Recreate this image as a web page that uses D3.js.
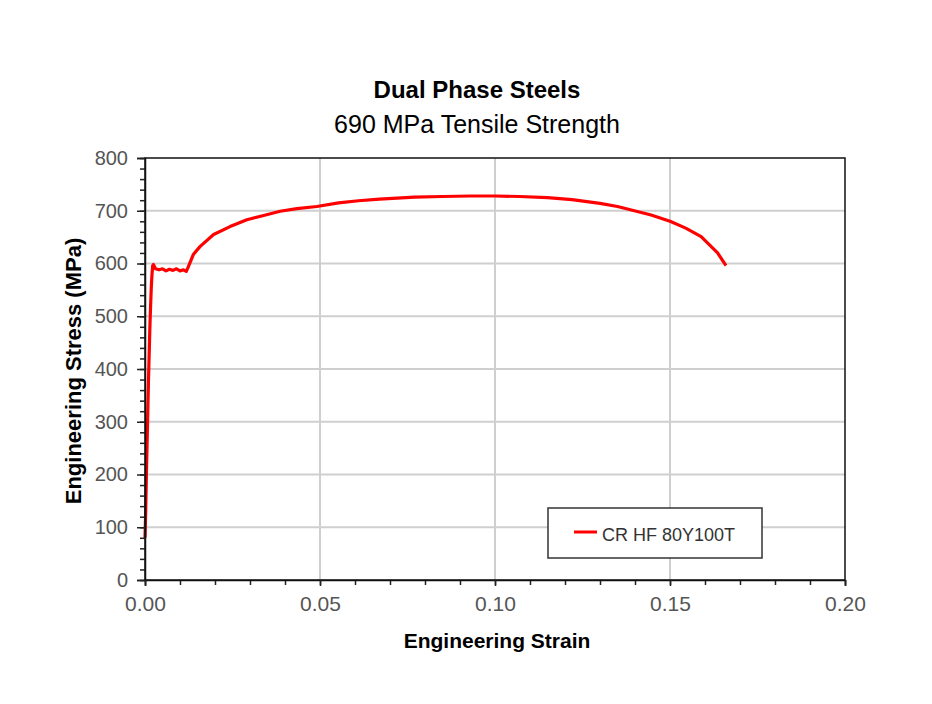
<!DOCTYPE html>
<html>
<head>
<meta charset="utf-8">
<script src="https://cdn.jsdelivr.net/npm/d3@7"></script>
<style>
  body { margin: 0; background: #fff; }
  svg { display: block; font-family: "Liberation Sans", Arial, sans-serif; }
</style>
</head>
<body>
<div id="root"></div>
<script>
const width = 932;
const height = 704;
const margin = { top: 158, right: 87, bottom: 124, left: 145 };
const innerWidth = width - margin.left - margin.right;
const innerHeight = height - margin.top - margin.bottom;

const strain = [0, 0.0002, 0.0004, 0.0006, 0.0008, 0.001, 0.0012, 0.0014, 0.0016, 0.0018, 0.002, 0.0022, 0.0024,
  0.003, 0.004, 0.005, 0.006, 0.007, 0.008, 0.009, 0.01, 0.011, 0.0118, 0.0124, 0.0138, 0.0157,
  0.0196, 0.0243, 0.0291, 0.0339, 0.0386, 0.0434, 0.0491, 0.0553, 0.061, 0.067, 0.077, 0.085, 0.093,
  0.1, 0.107, 0.115, 0.122, 0.13, 0.135, 0.1446, 0.15, 0.1545, 0.1589, 0.1636, 0.166];
const stress = [80, 130, 200, 260, 320, 380, 430, 480, 520, 555, 580, 596, 598,
  590, 588, 590, 586, 589, 587, 590, 586, 588, 585, 594, 617, 632,
  655, 670, 683, 691, 699, 704, 708, 715, 719, 722, 726, 727, 728,
  728, 727, 725, 721, 714, 708, 692, 680, 667, 651, 620, 596];
const seriesName = "CR HF 80Y100T";
const xTicks = [0, 0.05, 0.1, 0.15, 0.2];
const yTicks = [0, 100, 200, 300, 400, 500, 600, 700, 800];
const xMinor = d3.range(0, 0.2001, 0.01);
const yMinor = d3.range(0, 801, 20);

const data = strain.map((s, i) => ({ strain: s, stress: stress[i] }));

const svg = d3.select("#root").append("svg")
  .attr("width", width)
  .attr("height", height);

svg.append("rect").attr("width", width).attr("height", height).attr("fill", "#fff");

const xScale = d3.scaleLinear().domain([0, 0.2]).range([0, innerWidth]);
const yScale = d3.scaleLinear().domain([0, 800]).range([innerHeight, 0]);

svg.append("text")
  .text("Dual Phase Steels")
  .attr("x", 477).attr("y", 98)
  .attr("text-anchor", "middle")
  .attr("font-size", 24).attr("font-weight", 700);
svg.append("text")
  .text("690 MPa Tensile Strength")
  .attr("x", 477).attr("y", 133)
  .attr("text-anchor", "middle")
  .attr("font-size", 25);

const innerChart = svg.append("g")
  .attr("transform", `translate(${margin.left}, ${margin.top})`);

// grid
innerChart.selectAll(".grid-x")
  .data(xTicks.slice(1, -1))
  .join("line")
  .attr("x1", d => xScale(d)).attr("x2", d => xScale(d))
  .attr("y1", 0).attr("y2", innerHeight)
  .attr("stroke", "#cfcfcf").attr("stroke-width", 2);
innerChart.selectAll(".grid-y")
  .data(yTicks.slice(1, -1))
  .join("line")
  .attr("y1", d => yScale(d)).attr("y2", d => yScale(d))
  .attr("x1", 0).attr("x2", innerWidth)
  .attr("stroke", "#cfcfcf").attr("stroke-width", 2);

// curve
const line = d3.line().x(d => xScale(d.strain)).y(d => yScale(d.stress));
innerChart.append("path")
  .datum(data)
  .attr("d", line)
  .attr("fill", "none")
  .attr("stroke", "#ff0000")
  .attr("stroke-width", 3.2)
  .attr("stroke-linejoin", "round");

// frame
innerChart.append("rect")
  .attr("width", innerWidth).attr("height", innerHeight)
  .attr("fill", "none").attr("stroke", "#111").attr("stroke-width", 1.5);

// axes
const leftMinor = d3.axisLeft(yScale).tickValues(yMinor).tickSize(5).tickFormat("");
innerChart.append("g").call(leftMinor)
  .call(g => g.select(".domain").remove())
  .call(g => g.selectAll("text").remove())
  .selectAll("line").attr("stroke", "#222").attr("stroke-width", 1.5);
const leftAxis = d3.axisLeft(yScale).tickValues(yTicks).tickSize(8).tickPadding(9).tickFormat(d3.format("d"));
innerChart.append("g").call(leftAxis)
  .attr("font-size", 20).attr("font-family", null)
  .call(g => g.select(".domain").attr("stroke", "#111").attr("stroke-width", 1.5))
  .call(g => g.selectAll("line").attr("stroke", "#222").attr("stroke-width", 1.5))
  .call(g => g.selectAll("text").attr("fill", "#555"));

const bottomMinor = d3.axisBottom(xScale).tickValues(xMinor).tickSize(5).tickFormat("");
innerChart.append("g").attr("transform", `translate(0, ${innerHeight})`)
  .call(bottomMinor)
  .call(g => g.select(".domain").remove())
  .call(g => g.selectAll("text").remove())
  .selectAll("line").attr("stroke", "#222").attr("stroke-width", 1.5);
const bottomAxis = d3.axisBottom(xScale).tickValues(xTicks).tickSize(6).tickPadding(10).tickFormat(d3.format(".2f"));
innerChart.append("g").attr("transform", `translate(0, ${innerHeight})`)
  .call(bottomAxis)
  .attr("font-size", 21).attr("font-family", null)
  .call(g => g.select(".domain").attr("stroke", "#111").attr("stroke-width", 1.5))
  .call(g => g.selectAll("line").attr("stroke", "#222").attr("stroke-width", 1.5))
  .call(g => g.selectAll("text").attr("fill", "#555"));

// axis titles
svg.append("text")
  .text("Engineering Strain")
  .attr("x", 497).attr("y", 648)
  .attr("text-anchor", "middle")
  .attr("font-size", 21).attr("font-weight", 700);
svg.append("text")
  .text("Engineering Stress (MPa)")
  .attr("transform", "translate(81, 371) rotate(-90)")
  .attr("text-anchor", "middle")
  .attr("font-size", 22).attr("font-weight", 700);

// legend
const legend = svg.append("g").attr("transform", "translate(548, 508)");
legend.append("rect")
  .attr("width", 214).attr("height", 50)
  .attr("fill", "#fff").attr("stroke", "#333").attr("stroke-width", 1.5);
legend.append("line")
  .attr("x1", 26).attr("x2", 49).attr("y1", 24).attr("y2", 24)
  .attr("stroke", "#ff0000").attr("stroke-width", 3);
legend.append("text")
  .text(seriesName)
  .attr("x", 54).attr("y", 33)
  .attr("fill", "#333")
  .attr("font-size", 18);
</script>
</body>
</html>
